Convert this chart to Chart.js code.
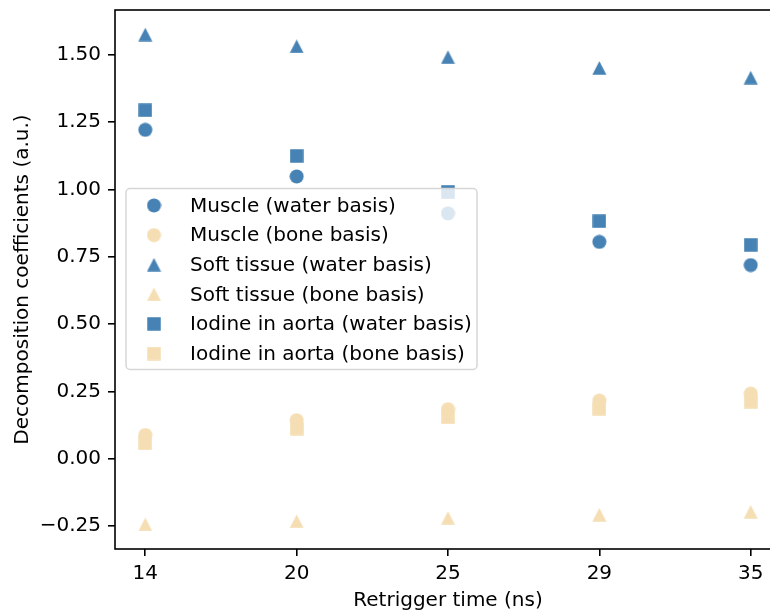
<!DOCTYPE html>
<html><head><meta charset="utf-8">
<script src="https://cdn.jsdelivr.net/npm/chart.js@4/dist/chart.umd.min.js"></script>
<style>
html,body{margin:0;padding:0;overflow:hidden;background:#fff;width:770px;height:612px}
#wrap{width:790px;height:612px}
</style>
</head><body><div id="wrap"><canvas id="c" width="790" height="612"></canvas></div>
<script>
// ---- data ----
const retriggerTimes = ['14', '20', '25', '29', '35'];
const muscleWater = [1.221, 1.048, 0.911, 0.805, 0.719];
const muscleBone = [0.088, 0.143, 0.184, 0.216, 0.242];
const softWater = [1.575, 1.531, 1.491, 1.451, 1.415];
const softBone = [-0.244, -0.232, -0.220, -0.208, -0.197];
const iodineWater = [1.294, 1.124, 0.991, 0.882, 0.794];
const iodineBone = [0.057, 0.112, 0.154, 0.186, 0.212];
const yTicks = [-0.25, 0, 0.25, 0.5, 0.75, 1.0, 1.25, 1.5];
const seriesLabels = [
  'Muscle (water basis)', 'Muscle (bone basis)',
  'Soft tissue (water basis)', 'Soft tissue (bone basis)',
  'Iodine in aorta (water basis)', 'Iodine in aorta (bone basis)'
];

const BLUE = '#4682B4', WHEAT = '#F5DEB3';
const FONT = "'DejaVu Sans', sans-serif";

function marker(shape, color) {
  const c = document.createElement('canvas');
  const x = c.getContext('2d');
  if (shape === 'circle') {
    c.width = 15; c.height = 15;
    x.fillStyle = color; x.beginPath(); x.arc(7.5, 7.5, 7, 0, Math.PI * 2); x.fill();
  } else if (shape === 'square') {
    c.width = 14; c.height = 14;
    x.fillStyle = color; x.fillRect(0.25, 0.25, 13.5, 13.5);
  } else {
    c.width = 15; c.height = 14;
    x.fillStyle = color; x.beginPath();
    x.moveTo(7.5, 0.2); x.lineTo(14.5, 13.8); x.lineTo(0.5, 13.8); x.closePath(); x.fill();
  }
  return c;
}

const seriesValues = [muscleWater, muscleBone, softWater, softBone, iodineWater, iodineBone];
const seriesShapes = ['circle', 'circle', 'triangle', 'triangle', 'square', 'square'];
const seriesColors = [BLUE, WHEAT, BLUE, WHEAT, BLUE, WHEAT];
const seriesMarkers = seriesShapes.map((s, i) => marker(s, seriesColors[i]));

const datasets = seriesValues.map((vals, i) => ({
  label: seriesLabels[i],
  data: vals.map((v, k) => ({x: k, y: v})),
  pointStyle: seriesMarkers[i],
  backgroundColor: seriesColors[i],
  borderColor: seriesColors[i],
  showLine: false,
  order: 6 - i
}));

const framePlugin = {
  id: 'frame',
  afterDatasetsDraw(chart) {
    const {ctx, chartArea: a} = chart;
    ctx.save();
    // legend
    const lx = 126, ly = 188.5, lw = 351, lh = 181, r = 4;
    ctx.beginPath();
    ctx.moveTo(lx + r, ly); ctx.lineTo(lx + lw - r, ly); ctx.arcTo(lx + lw, ly, lx + lw, ly + r, r);
    ctx.lineTo(lx + lw, ly + lh - r); ctx.arcTo(lx + lw, ly + lh, lx + lw - r, ly + lh, r);
    ctx.lineTo(lx + r, ly + lh); ctx.arcTo(lx, ly + lh, lx, ly + lh - r, r);
    ctx.lineTo(lx, ly + r); ctx.arcTo(lx, ly, lx + r, ly, r); ctx.closePath();
    ctx.fillStyle = 'rgba(255,255,255,0.8)'; ctx.fill();
    ctx.strokeStyle = '#d6d6d6'; ctx.lineWidth = 1.5; ctx.stroke();
    ctx.font = '20px ' + FONT; ctx.fillStyle = '#000';
    ctx.textBaseline = 'middle'; ctx.textAlign = 'left';
    seriesLabels.forEach((lab, i) => {
      const cy = 205.5 + i * 29.6;
      const m = seriesMarkers[i];
      ctx.drawImage(m, 154 - m.width / 2, cy - m.height / 2);
      ctx.fillText(lab, 190, cy + 1);
    });
    // spines
    ctx.strokeStyle = '#000'; ctx.lineWidth = 1.6;
    ctx.strokeRect(a.left, a.top, a.right - a.left, a.bottom - a.top);
    ctx.restore();
  }
};

new Chart(document.getElementById('c'), {
  type: 'scatter',
  data: {datasets},
  options: {
    responsive: false,
    animation: false,
    devicePixelRatio: 1,
    layout: {padding: {left: 0, top: 10, right: 9, bottom: 0}},
    plugins: {legend: {display: false}, tooltip: {enabled: false}},
    elements: {point: {radius: 7, hoverRadius: 7}},
    scales: {
      x: {
        type: 'linear', min: -0.2, max: 4.2,
        afterBuildTicks: s => { s.ticks = retriggerTimes.map((t, i) => ({value: i})); },
        afterFit: s => { s.height = 63; s.paddingLeft = 0; s.paddingRight = 0; },
        border: {display: false},
        grid: {display: true, drawOnChartArea: false, drawTicks: true, tickLength: 7, color: '#000', lineWidth: 1.6},
        ticks: {color: '#000', font: {family: FONT, size: 20}, padding: 6, maxRotation: 0,
          callback: v => retriggerTimes[v]},
        title: {display: true, text: 'Retrigger time (ns)', color: '#000',
          font: {family: FONT, size: 20}, padding: {top: 0, bottom: -1}}
      },
      y: {
        type: 'linear', min: -0.335, max: 1.666,
        afterBuildTicks: s => { s.ticks = yTicks.map(v => ({value: v})); },
        afterFit: s => { s.width = 115; s.paddingTop = 0; s.paddingBottom = 0; },
        border: {display: false},
        grid: {display: true, drawOnChartArea: false, drawTicks: true, tickLength: 7, color: '#000', lineWidth: 1.6},
        ticks: {color: '#000', font: {family: FONT, size: 20}, padding: 7,
          callback: v => (v < 0 ? '\u2212' + Math.abs(v).toFixed(2) : v.toFixed(2))},
        title: {display: true, text: 'Decomposition coefficients (a.u.)', color: '#000',
          font: {family: FONT, size: 20}, padding: {top: 11, bottom: 0}}
      }
    }
  },
  plugins: [framePlugin]
});
</script>
</body></html>
